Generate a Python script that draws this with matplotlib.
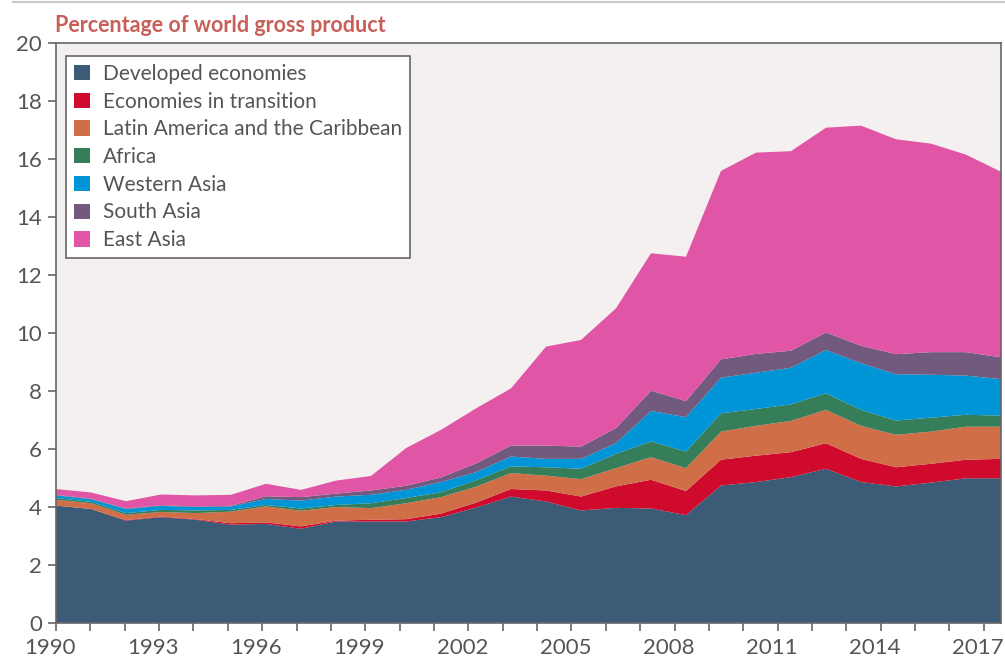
import numpy as np
import matplotlib
matplotlib.use("Agg")
import matplotlib.pyplot as plt
import matplotlib.transforms as mtransforms
from matplotlib.lines import Line2D

years = list(range(1990, 2018))

developed = [4.05, 3.93, 3.53, 3.65, 3.56, 3.39, 3.42, 3.25, 3.50, 3.50, 3.50, 3.65, 3.98, 4.36,
             4.19, 3.88, 3.97, 3.95, 3.72, 4.74, 4.86, 5.03, 5.32, 4.86, 4.71, 4.84, 4.99, 4.99]
transition = [0.00, 0.00, 0.02, 0.02, 0.02, 0.05, 0.05, 0.08, 0.03, 0.06, 0.08, 0.12, 0.17, 0.26,
              0.38, 0.48, 0.74, 0.99, 0.83, 0.89, 0.91, 0.86, 0.88, 0.80, 0.66, 0.65, 0.64, 0.67]
latin = [0.20, 0.20, 0.18, 0.16, 0.21, 0.40, 0.55, 0.54, 0.47, 0.40, 0.55, 0.57, 0.55, 0.55,
         0.51, 0.60, 0.63, 0.78, 0.79, 0.97, 1.03, 1.08, 1.15, 1.14, 1.12, 1.11, 1.14, 1.11]
africa = [0.06, 0.05, 0.06, 0.07, 0.09, 0.06, 0.05, 0.08, 0.07, 0.17, 0.18, 0.17, 0.22, 0.23,
          0.29, 0.36, 0.49, 0.54, 0.57, 0.63, 0.58, 0.57, 0.57, 0.55, 0.49, 0.48, 0.41, 0.38]
western_asia = [0.09, 0.09, 0.14, 0.14, 0.12, 0.12, 0.21, 0.27, 0.29, 0.29, 0.28, 0.35, 0.28, 0.34,
                0.29, 0.34, 0.37, 1.05, 1.19, 1.23, 1.25, 1.26, 1.49, 1.61, 1.60, 1.48, 1.35, 1.26]
south_asia = [0.02, 0.02, 0.02, 0.02, 0.02, 0.02, 0.09, 0.12, 0.10, 0.15, 0.14, 0.16, 0.30, 0.38,
              0.46, 0.42, 0.52, 0.70, 0.55, 0.63, 0.65, 0.59, 0.61, 0.60, 0.69, 0.78, 0.81, 0.75]
east_asia = [0.20, 0.21, 0.25, 0.37, 0.38, 0.38, 0.43, 0.25, 0.45, 0.50, 1.30, 1.64, 1.90, 1.97,
             3.41, 3.68, 4.13, 4.74, 4.98, 6.50, 6.94, 6.88, 7.06, 7.59, 7.41, 7.19, 6.81, 6.40]

labels = ["Developed economies", "Economies in transition", "Latin America and the Caribbean",
          "Africa", "Western Asia", "South Asia", "East Asia"]
colors = ["#3B5B76", "#CF0A2C", "#D06E47", "#367D5A", "#0095D6", "#715A7E", "#E055A6"]

plt.rcParams['font.family'] = ['Lato', 'DejaVu Sans']

fig = plt.figure(figsize=(10.05, 6.62), dpi=100)
ax = fig.add_axes([56 / 1005, 1 - 623 / 662, 945 / 1005, 580 / 662])
ax.set_facecolor("#F5F0F0")

ax.stackplot(years, developed, transition, latin, africa, western_asia, south_asia, east_asia,
             labels=labels, colors=colors, linewidth=0)

ax.set_xlim(1990, 2017)
ax.set_ylim(0, 20)
ax.set_yticks(range(0, 21, 2))

# the year ticks run a little tighter than the data points, as in the original
n = len(years)
tick_pos = [years[0] + k * (n - 1) / (n - 0.5) for k in range(n)]
tick_lab = [str(y) if (y - 1990) % 3 == 0 else "" for y in years]
ax.set_xticks(tick_pos)
ax.set_xticklabels(tick_lab)

for s in ax.spines.values():
    s.set_color("#666666")
    s.set_linewidth(1.2)
ax.tick_params(axis="both", direction="out", length=6, width=1.2, color="#666666",
               labelcolor="#555555", labelsize=16)
ax.tick_params(axis="y", pad=4)
ax.tick_params(axis="x", pad=5)
offset = mtransforms.ScaledTranslation(-0.06, 0, fig.dpi_scale_trans)
for lab in ax.get_xticklabels():
    lab.set_transform(lab.get_transform() + offset)

leg = ax.legend(loc="upper left", bbox_to_anchor=(10 / 945, 1 - 13 / 580), borderaxespad=0,
                fontsize=15, frameon=True, fancybox=False, handlelength=0.75, handleheight=0.75,
                handletextpad=0.65, labelspacing=0.37, borderpad=0.38, labelcolor="#555555")
leg.get_frame().set_edgecolor("#666666")
leg.get_frame().set_facecolor("white")
leg.get_frame().set_alpha(1)
leg.get_frame().set_linewidth(1.2)

fig.text(55 / 1005, 1 - 25 / 662, "Percentage of world gross product", fontsize=15.5,
         fontweight="bold", color="#C8605A", ha="left", va="center")
fig.add_artist(Line2D([13 / 1005, 1], [1 - 2 / 662, 1 - 2 / 662], color="#C8C8C8", lw=1.5,
                      transform=fig.transFigure))

fig.savefig("out.png", dpi=100)
